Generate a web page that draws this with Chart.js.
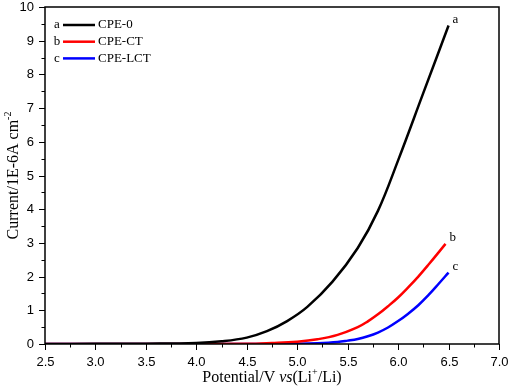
<!DOCTYPE html>
<html>
<head>
<meta charset="utf-8">
<script src="https://cdn.jsdelivr.net/npm/chart.js@4.4.1/dist/chart.umd.min.js"></script>
<style>
    html, body { margin: 0; padding: 0; background: #fff; }
    #wrap { width: 510px; height: 389px; }
</style>
</head>
<body>
<div id="wrap"><canvas id="lsvChart" width="510" height="389"></canvas></div>
<script>
// Data (Potential / V, Current / 1E-6 A cm^-2)
const seriesNames = ["CPE-0", "CPE-CT", "CPE-LCT"];
const seriesTags = ["a", "b", "c"];
const seriesColors = ["#000000", "#ff0000", "#0000ff"];

const cpe0Potential = [2.5, 3.0, 3.5, 4.0, 4.25, 4.5, 4.7, 4.9, 5.1, 5.35, 5.6, 5.8, 6.0, 6.25, 6.5];
const cpe0Current = [0, 0.005, 0.01, 0.03, 0.08, 0.19, 0.38, 0.68, 1.1, 1.85, 2.85, 3.95, 5.45, 7.45, 9.45];

const cpeCtPotential = [2.5, 3.5, 4.5, 4.75, 5.0, 5.2, 5.4, 5.6, 5.7, 5.8, 5.9, 6.0, 6.1, 6.2, 6.3, 6.47];
const cpeCtCurrent = [0, 0, 0.005, 0.03, 0.07, 0.14, 0.27, 0.5, 0.67, 0.88, 1.12, 1.38, 1.68, 2.0, 2.35, 2.97];

const cpeLctPotential = [2.5, 3.5, 4.5, 5.0, 5.2, 5.4, 5.5, 5.6, 5.7, 5.8, 5.9, 6.0, 6.1, 6.2, 6.3, 6.4, 6.5];
const cpeLctCurrent = [0, 0, 0, 0.01, 0.025, 0.06, 0.1, 0.15, 0.23, 0.34, 0.49, 0.68, 0.9, 1.15, 1.45, 1.78, 2.12];

const xTickMin = 2.5, xTickMax = 7.0;
const yTickMin = 0, yTickMax = 10;

const SERIF = "'Liberation Serif', 'Times New Roman', serif";
const SANS = "'Liberation Sans', Arial, sans-serif";

function toPoints(xs, ys) {
    return xs.map((x, i) => ({ x: x, y: ys[i] }));
}

const allPoints = [
    toPoints(cpe0Potential, cpe0Current),
    toPoints(cpeCtPotential, cpeCtCurrent),
    toPoints(cpeLctPotential, cpeLctCurrent)
];

function isMultiple(v, step) {
    return Math.abs(v / step - Math.round(v / step)) < 1e-6;
}

// frame, ticks, tick labels, legend, end tags and axis titles
const decorPlugin = {
    id: "decor",
    afterDraw(chart) {
        const ctx = chart.ctx;
        const area = chart.chartArea;
        const xs = chart.scales.x;
        const ys = chart.scales.y;
        ctx.save();

        // frame
        ctx.strokeStyle = "#000";
        ctx.lineWidth = 1.5;
        ctx.strokeRect(area.left, area.top, area.right - area.left, area.bottom - area.top);

        // ticks (outward, major longer) + labels
        ctx.lineWidth = 1;
        ctx.fillStyle = "#000";
        ctx.font = "13px " + SANS;
        xs.ticks.forEach(t => {
            const px = Math.round(xs.getPixelForValue(t.value)) + 0.5;
            const major = isMultiple(t.value, 0.5);
            ctx.beginPath();
            ctx.moveTo(px, area.bottom);
            ctx.lineTo(px, area.bottom + (major ? 6 : 3.5));
            ctx.stroke();
            if (major) {
                ctx.textAlign = "center";
                ctx.textBaseline = "middle";
                ctx.fillText(t.value.toFixed(1), px, 362);
            }
        });
        ys.ticks.forEach(t => {
            const py = Math.round(ys.getPixelForValue(t.value)) + 0.5;
            const major = isMultiple(t.value, 1);
            ctx.beginPath();
            ctx.moveTo(area.left, py);
            ctx.lineTo(area.left - (major ? 6 : 3.5), py);
            ctx.stroke();
            if (major) {
                ctx.textAlign = "right";
                ctx.textBaseline = "middle";
                ctx.fillText(String(t.value), 34, py);
            }
        });

        // legend
        ctx.font = "13px " + SERIF;
        ctx.textBaseline = "middle";
        seriesNames.forEach((name, i) => {
            const y = 25 + i * 16.7;
            ctx.fillStyle = "#000";
            ctx.textAlign = "center";
            ctx.fillText(seriesTags[i], 57, y);
            ctx.strokeStyle = seriesColors[i];
            ctx.lineWidth = 2.5;
            ctx.beginPath();
            ctx.moveTo(63, y);
            ctx.lineTo(95, y);
            ctx.stroke();
            ctx.textAlign = "left";
            ctx.fillText(name, 98, y);
        });

        // tags at curve ends
        ctx.textAlign = "left";
        ctx.fillStyle = "#000";
        chart.data.datasets.forEach((ds, i) => {
            const meta = chart.getDatasetMeta(i);
            const last = meta.data[meta.data.length - 1];
            ctx.fillText(seriesTags[i], last.x + 4, last.y - 6);
        });

        // x title: Potential/V vs(Li+/Li)
        const cx = (area.left + area.right) / 2;
        const ty = 378;
        const parts = [
            { t: "Potential/V ", f: "16px " + SERIF, dy: 0 },
            { t: "vs", f: "italic 16px " + SERIF, dy: 0 },
            { t: "(Li", f: "16px " + SERIF, dy: 0 },
            { t: "+", f: "10px " + SERIF, dy: -6 },
            { t: "/Li)", f: "16px " + SERIF, dy: 0 }
        ];
        let total = 0;
        parts.forEach(p => { ctx.font = p.f; p.w = ctx.measureText(p.t).width; total += p.w; });
        let x0 = cx - total / 2;
        ctx.textBaseline = "middle";
        parts.forEach(p => {
            ctx.font = p.f;
            ctx.fillText(p.t, x0, ty + p.dy);
            x0 += p.w;
        });

        // y title: Current/1E-6A cm-2
        const cy = (area.top + area.bottom) / 2;
        ctx.translate(14, cy);
        ctx.rotate(-Math.PI / 2);
        const yparts = [
            { t: "Current/1E-6A cm", f: "16px " + SERIF, dy: 0 },
            { t: "-2", f: "10px " + SERIF, dy: -6 }
        ];
        total = 0;
        yparts.forEach(p => { ctx.font = p.f; p.w = ctx.measureText(p.t).width; total += p.w; });
        x0 = -total / 2;
        yparts.forEach(p => {
            ctx.font = p.f;
            ctx.fillText(p.t, x0, p.dy);
            x0 += p.w;
        });
        ctx.restore();
    }
};

const datasets = seriesNames.map((name, i) => ({
    label: name,
    data: allPoints[i],
    borderColor: seriesColors[i],
    backgroundColor: seriesColors[i],
    borderWidth: 2.5,
    pointRadius: 0,
    tension: 0.4,
    fill: false
}));

new Chart(document.getElementById("lsvChart"), {
    type: "line",
    data: { datasets: datasets },
    options: {
        responsive: false,
        animation: false,
        devicePixelRatio: 1,
        layout: { padding: { top: 7, right: 11, left: 0, bottom: 0 } },
        plugins: {
            legend: { display: false },
            tooltip: { enabled: false }
        },
        scales: {
            x: {
                type: "linear",
                min: xTickMin,
                max: xTickMax,
                grid: { display: false },
                border: { display: false },
                ticks: { display: false, stepSize: 0.25, autoSkip: false },
                afterFit: s => { s.height = 45; }
            },
            y: {
                min: yTickMin,
                max: yTickMax,
                grid: { display: false },
                border: { display: false },
                ticks: { display: false, stepSize: 0.5, autoSkip: false },
                afterFit: s => { s.width = 45; }
            }
        }
    },
    plugins: [decorPlugin]
});
</script>
</body>
</html>
